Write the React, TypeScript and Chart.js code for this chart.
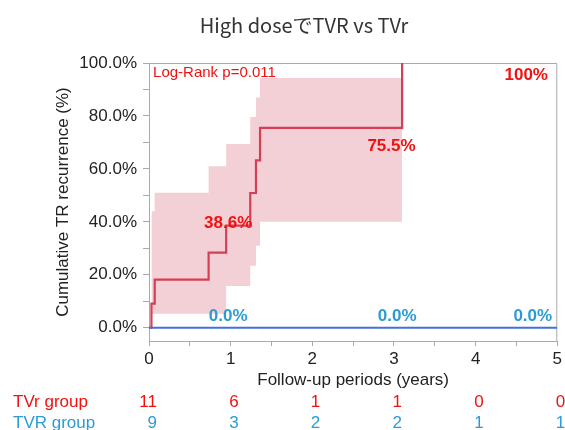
import React, { useEffect, useRef } from 'react';
import { Chart, registerables } from 'chart.js';

Chart.register(...registerables);

const TITLE = 'High doseでTVR vs TVr';
const Y_TITLE = 'Cumulative TR recurrence (%)';
const X_TITLE = 'Follow-up periods (years)';

// Kaplan-Meier cumulative incidence, TVr group (event times in years, %)
const TVr_TIMES = [0, 0.03, 0.07, 0.73, 0.945, 1.24, 1.31, 1.36, 3.1];
const TVr_VALUES = [0, 9.1, 18.2, 28.4, 38.6, 50.9, 63.2, 75.5, 100];

// Confidence band of the TVr group
const CI_TIMES = [0.03, 0.07, 0.73, 0.945, 1.24, 1.31, 1.36, 3.1];
const CI_UPPER = [44, 51, 61, 69.4, 79.6, 87, 94.3, 94.3];
const CI_LOWER = [5.3, 5.3, 5.3, 15.8, 23.4, 31, 40, 40];

// TVR group: no events
const TVR_TIMES = [0, 5];
const TVR_VALUES = [0, 0];

// Numbers at risk
const RISK_TIMES = [0, 1, 2, 3, 4, 5];
const RISK_TVr = [11, 6, 1, 1, 0, 0];
const RISK_TVR = [9, 3, 2, 2, 1, 1];

const RED_TEXT = '#f21010';
const BLUE_TEXT = '#2c9bd4';
const FONT = '"Liberation Sans", Arial, sans-serif';

const toPts = (xs: number[], ys: number[]) => xs.map((x, i) => ({ x, y: ys[i] }));

const overlay = {
  id: 'overlay',
  beforeDatasetsDraw(chart: any) {
    const { ctx, chartArea: a } = chart;
    ctx.save();
    ctx.strokeStyle = '#aaaaaa';
    ctx.lineWidth = 1;
    ctx.beginPath();
    ctx.moveTo(a.left, a.top + 0.5);
    ctx.lineTo(a.right - 0.5, a.top + 0.5);
    ctx.lineTo(a.right - 0.5, a.bottom);
    ctx.stroke();
    ctx.restore();
  },
  afterDraw(chart: any) {
    const { ctx } = chart;
    const xs = chart.scales.x;
    const ys = chart.scales.y;
    ctx.save();
    // title
    ctx.fillStyle = '#333333';
    ctx.font = '20px "Noto Sans CJK JP", sans-serif';
    ctx.textAlign = 'center';
    ctx.textBaseline = 'middle';
    ctx.fillText(TITLE, 304, 25);

    // annotations inside plot
    const label = (text: string, xv: number, yv: number, color: string, bold: boolean, align: CanvasTextAlign, size: number) => {
      ctx.font = `${bold ? 'bold ' : ''}${size}px ${FONT}`;
      ctx.fillStyle = color;
      ctx.textAlign = align;
      ctx.textBaseline = 'middle';
      ctx.fillText(text, xs.getPixelForValue(xv), ys.getPixelForValue(yv));
    };
    label('Log-Rank p=0.011', 0.05, 96.2, RED_TEXT, false, 'left', 15);
    label('100%', 4.62, 95.5, RED_TEXT, true, 'center', 17);
    label('75.5%', 2.97, 68.7, RED_TEXT, true, 'center', 17);
    label('38.6%', 0.97, 39.6, RED_TEXT, true, 'center', 17);
    label('0.0%', 0.97, 4.2, BLUE_TEXT, true, 'center', 17);
    label('0.0%', 3.04, 4.2, BLUE_TEXT, true, 'center', 17);
    label('0.0%', 4.7, 4.2, BLUE_TEXT, true, 'center', 17);

    // risk table
    ctx.font = `17px ${FONT}`;
    ctx.textBaseline = 'middle';
    ctx.textAlign = 'left';
    ctx.fillStyle = RED_TEXT;
    ctx.fillText('TVr group', 13, 402);
    ctx.fillStyle = BLUE_TEXT;
    ctx.fillText('TVR group', 13, 423);
    ctx.textAlign = 'right';
    RISK_TIMES.forEach((t, i) => {
      const px = xs.getPixelForValue(t) + 8;
      ctx.fillStyle = RED_TEXT;
      ctx.fillText(String(RISK_TVr[i]), px, 402);
      ctx.fillStyle = BLUE_TEXT;
      ctx.fillText(String(RISK_TVR[i]), px, 423);
    });
    ctx.restore();
  },
};

export default function App() {
  const ref = useRef<HTMLCanvasElement | null>(null);
  useEffect(() => {
    if (!ref.current) return;
    const chart = new Chart(ref.current, {
      type: 'line',
      data: {
        datasets: [
          {
            label: 'TVR group',
            data: toPts(TVR_TIMES, TVR_VALUES),
            borderColor: '#4272d8',
            borderWidth: 2,
            pointRadius: 0,
            fill: false,
            order: 0,
          },
          {
            label: 'TVr group',
            data: toPts(TVr_TIMES, TVr_VALUES),
            borderColor: '#d43f55',
            borderWidth: 2.2,
            pointRadius: 0,
            stepped: 'before',
            fill: false,
            order: 1,
          },
          {
            label: 'upper',
            data: toPts(CI_TIMES, CI_UPPER),
            borderWidth: 0,
            borderColor: 'rgba(0,0,0,0)',
            backgroundColor: '#f3d0d6',
            pointRadius: 0,
            stepped: 'before',
            fill: '+1',
            order: 2,
          },
          {
            label: 'lower',
            data: toPts(CI_TIMES, CI_LOWER),
            borderWidth: 0,
            borderColor: 'rgba(0,0,0,0)',
            pointRadius: 0,
            stepped: 'before',
            fill: false,
            order: 3,
          },
        ],
      },
      options: {
        responsive: false,
        animation: false,
        layout: { padding: { top: 63, right: 3, left: 0, bottom: 0 } },
        plugins: {
          legend: { display: false },
          tooltip: { enabled: false },
        },
        scales: {
          x: {
            type: 'linear',
            min: 0,
            max: 5,
            afterFit: (s: any) => { s.height = 89; },
            border: { display: true, color: '#aaaaaa', width: 1 },
            grid: { drawOnChartArea: false, drawTicks: true, tickLength: 5, tickColor: '#aaaaaa' },
            ticks: {
              stepSize: 0.5,
              autoSkip: false,
              maxRotation: 0,
              padding: 3,
              color: '#222222',
              font: { size: 17, family: FONT },
              callback: (v: any) => (Number(v) % 1 === 0 ? String(v) : ''),
            },
            title: {
              display: true,
              text: X_TITLE,
              color: '#222222',
              font: { size: 17, family: FONT },
              padding: { top: 0, bottom: 39 },
            },
          },
          y: {
            type: 'linear',
            min: -5,
            max: 100,
            afterFit: (s: any) => { s.width = 149; },
            border: { display: true, color: '#aaaaaa', width: 1 },
            grid: {
              drawOnChartArea: false,
              drawTicks: true,
              tickLength: 6,
              tickColor: (c: any) => (c.tick && c.tick.value < 0 ? 'rgba(0,0,0,0)' : '#aaaaaa'),
            },
            ticks: {
              stepSize: 10,
              includeBounds: false,
              autoSkip: false,
              padding: 6,
              color: '#222222',
              font: { size: 17, family: FONT },
              callback: (v: any) => {
                const n = Number(v);
                return n >= 0 && Math.abs(n % 20) < 1e-9 ? n.toFixed(1) + '%' : '';
              },
            },
            title: {
              display: true,
              text: Y_TITLE,
              color: '#222222',
              font: { size: 17, family: FONT },
              padding: { top: 53, bottom: 0 },
            },
          },
        },
      },
      plugins: [overlay],
    });
    return () => chart.destroy();
  }, []);
  return (
    <div style={{ position: 'fixed', left: 0, top: 0, width: 565, height: 430, background: '#fff' }}>
      <canvas ref={ref} width={565} height={430} style={{ display: 'block' }} />
    </div>
  );
}
